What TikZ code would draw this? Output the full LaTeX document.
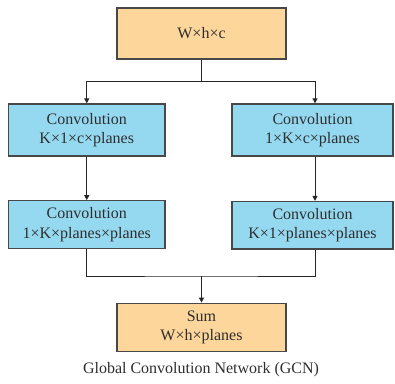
\documentclass[tikz,border=0pt]{standalone}
\usepackage{fontspec}
\setmainfont{Liberation Serif}
\usetikzlibrary{arrows.meta}
\definecolor{boxorange}{HTML}{FDD69B}
\definecolor{boxblue}{HTML}{95D9F1}
\definecolor{edgegray}{HTML}{484848}
\definecolor{textgray}{HTML}{2E2E2E}
\begin{document}
\begin{tikzpicture}[x=1pt,y=-1pt,
  block/.style={draw=edgegray, line width=1.3pt, inner sep=0pt, align=center,
    text=textgray, font=\fontsize{16}{19.5}\selectfont},
  inout/.style={block, fill=boxorange, minimum width=169pt},
  conv/.style={block, fill=boxblue},
  link/.style={draw=black!85, line width=0.9pt},
  flow/.style={link, -{Triangle[length=5pt,width=5pt]}}]
\useasboundingbox (0,0) rectangle (395,383);

% input and output blocks
\node[inout, minimum height=51pt] (input) at (201.5,33.5) {W×h×c};
\node[inout, minimum height=48.5pt] (sum) at (201.5,327.5) {Sum\\W×h×planes};

% the two convolution branches
\node[conv, minimum width=156.5pt, minimum height=52pt] (c1l) at (86.75,130) {Convolution\\K×1×c×planes};
\node[conv, minimum width=161pt, minimum height=52pt] (c1r) at (312.5,130) {Convolution\\1×K×c×planes};
\node[conv, minimum width=156.5pt, minimum height=48pt] (c2l) at (86.75,224.8) {Convolution\\1×K×planes×planes};
\node[conv, minimum width=161pt, minimum height=47.5pt] (c2r) at (312.5,225.3) {Convolution\\K×1×planes×planes};

% branch points
\coordinate (split) at (201.5,81);
\coordinate (merge) at (201.5,276);

\draw[link] (input.south) -- (split);
\draw[flow] (split) -| (c1l.north);
\draw[flow] (split) -| ([xshift=2.5pt]c1r.north);
\draw[flow] (c1l.south) -- (c2l.north);
\draw[flow] ([xshift=2.5pt]c1r.south) -- ([xshift=2.5pt]c2r.north);
\draw[link] (c2l.south) |- (merge) -| ([xshift=2.5pt]c2r.south);
\draw[flow] (merge) -- (sum.north);

% caption
\node[text=textgray, font=\fontsize{16}{19.5}\selectfont, anchor=base] (caption) at (201,373) {Global Convolution Network (GCN)};
\end{tikzpicture}
\end{document}
